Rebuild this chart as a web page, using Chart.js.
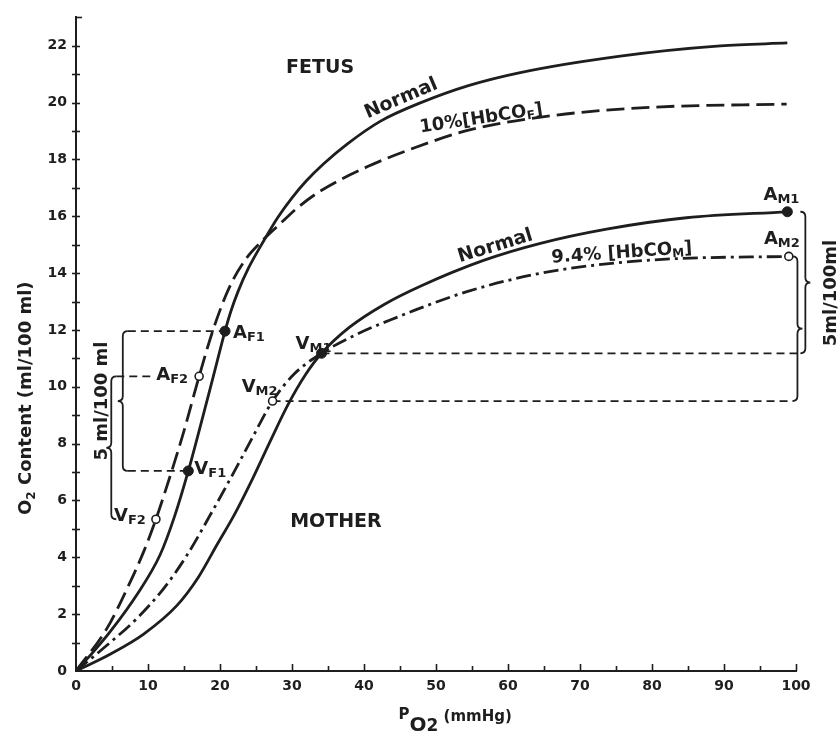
<!DOCTYPE html>
<html>
<head>
<meta charset="utf-8">
<script src="https://cdn.jsdelivr.net/npm/chart.js@4.4.1/dist/chart.umd.min.js"></script>
<style>
  html, body { margin: 0; padding: 0; background: #ffffff; }
  #wrap { width: 840px; height: 732px; }
</style>
</head>
<body>
<div id="wrap"><canvas id="chart" width="840" height="732"></canvas></div>
<script>
// O2 content of blood (ml/100 ml) against PO2 (mmHg), fetal and maternal,
// each with and without carboxyhaemoglobin.

// Fetal blood, normal
const fetusNormalPO2 = [0, 2.5, 4.8, 8.5, 11.7, 13.7, 15.6, 17.2, 19.0, 20.7, 21.5, 22.5, 24.0, 26.1, 28.0, 30.0, 32.0, 34.4, 37.7, 42.3, 47.9, 54.5, 61.7, 75.6, 89.5, 98.8];
const fetusNormalO2  = [0, 0.7, 1.4, 2.7, 4.1, 5.45, 7.04, 8.55, 10.3, 11.96, 12.65, 13.35, 14.2, 15.15, 15.95, 16.65, 17.25, 17.85, 18.55, 19.35, 20.0, 20.6, 21.06, 21.64, 22.0, 22.1];

// Fetal blood, 10% HbCO
const fetusCOPO2 = [0, 4.3, 7.1, 9.4, 11.1, 13.0, 15.0, 17.1, 19.1, 21.3, 23.6, 26.1, 28.4, 31.0, 34.0, 40.5, 46.9, 54.8, 66.3, 80.2, 98.7];
const fetusCOO2  = [0, 1.5, 2.9, 4.2, 5.34, 6.8, 8.45, 10.37, 12.05, 13.5, 14.5, 15.2, 15.75, 16.35, 16.9, 17.75, 18.4, 19.05, 19.55, 19.84, 19.95];

// Maternal blood, normal
const motherNormalPO2 = [0, 4.8, 9.4, 14, 17, 19.6, 22, 24.5, 27, 29.5, 31.8, 34.1, 38, 42.8, 47.9, 56.6, 64.5, 73.7, 84.8, 98.8];
const motherNormalO2  = [0, 0.6, 1.3, 2.3, 3.3, 4.45, 5.5, 6.75, 8.1, 9.4, 10.4, 11.18, 12.1, 12.9, 13.55, 14.45, 15.05, 15.55, 15.95, 16.16];

// Maternal blood, 9.4% HbCO
const motherCOPO2 = [0, 3.8, 8.5, 12.2, 15.4, 18.6, 21.9, 24.6, 27.3, 30.3, 34.1, 39, 45.1, 47.9, 54.3, 63.6, 72, 82.5, 99.0];
const motherCOO2  = [0, 0.8, 1.86, 2.91, 4.07, 5.47, 6.98, 8.26, 9.5, 10.45, 11.18, 11.85, 12.5, 12.78, 13.35, 13.95, 14.28, 14.5, 14.59];

// Arterial (A) and venous (V) points: 1 = normal, 2 = with HbCO
const pointNames = ['A_F1', 'V_F1', 'A_F2', 'V_F2', 'A_M1', 'V_M1', 'A_M2', 'V_M2'];
const pointPO2   = [20.7, 15.6, 17.1, 11.1, 98.8, 34.1, 99.0, 27.3];
const pointO2    = [11.96, 7.04, 10.37, 5.34, 16.16, 11.18, 14.59, 9.5];

// Axis tick labels
const xTickLabels = ['0', '10', '20', '30', '40', '50', '60', '70', '80', '90', '100'];
const yTickLabels = ['0', '2', '4', '6', '8', '10', '12', '14', '16', '18', '20', '22'];

const FAM = "'DejaVu Sans', 'Liberation Sans', sans-serif";
const INK = '#1e1e1e';

const zip = (xs, ys) => xs.map((v, i) => ({ x: v, y: ys[i] }));
const pointIndex = name => pointNames.indexOf(name);
const isNormal = name => name.endsWith('1');

function font(size, weight) { return (weight || 'bold') + ' ' + size + 'px ' + FAM; }

// Draws a sequence of text runs [text, font, dy] on one baseline.
function drawRuns(ctx, runs, x, y, align) {
  let w = 0;
  runs.forEach(r => { ctx.font = r[1]; w += ctx.measureText(r[0]).width; });
  let cx = align === 'right' ? x - w : (align === 'center' ? x - w / 2 : x);
  ctx.textAlign = 'left';
  ctx.textBaseline = 'alphabetic';
  runs.forEach(r => {
    ctx.font = r[1];
    ctx.fillText(r[0], cx, y + (r[2] || 0));
    cx += ctx.measureText(r[0]).width;
  });
  return w;
}

function pointLabelRuns(name) {
  const [main, sub] = name.split('_');
  return [[main, font(18)], [sub, font(13), 3]];
}

// Curly brace along a vertical line; dir = +1 puts the middle nub on the right.
function brace(ctx, x, yTop, yBot, dir, r) {
  const ym = (yTop + yBot) / 2;
  const e = x - dir * r;
  const n = x + dir * r;
  ctx.beginPath();
  ctx.moveTo(e, yTop);
  ctx.quadraticCurveTo(x, yTop, x, yTop + r);
  ctx.lineTo(x, ym - r);
  ctx.quadraticCurveTo(x, ym, n, ym);
  ctx.quadraticCurveTo(x, ym, x, ym + r);
  ctx.lineTo(x, yBot - r);
  ctx.quadraticCurveTo(x, yBot, e, yBot);
  ctx.stroke();
}

// Label placement for each point: anchor side, offset from the point (px)
const pointLabelLayout = {
  A_F1: { align: 'left',  dx: 8,   dy: 7 },
  V_F1: { align: 'left',  dx: 6,   dy: 3 },
  A_F2: { align: 'right', dx: -11, dy: 4 },
  V_F2: { align: 'right', dx: -10, dy: 2 },
  V_M1: { align: 'right', dx: 10,  dy: -4 },
  V_M2: { align: 'right', dx: 5,   dy: -9 },
  A_M1: { align: 'right', dx: 12,  dy: -12 },
  A_M2: { align: 'right', dx: 11,  dy: -12 }
};

// Brace positions along the PO2 axis
const braceAt = { F1: 6.5, F2: 4.9, M1: 101.3, M2: 100.2 };

const guides = {
  id: 'guides',
  beforeDatasetsDraw(chart) {
    const { ctx, scales: { x, y } } = chart;
    const px = name => x.getPixelForValue(pointPO2[pointIndex(name)]);
    const py = name => y.getPixelForValue(pointO2[pointIndex(name)]);
    const r = 5;
    ctx.save();
    ctx.strokeStyle = INK;
    ctx.lineWidth = 1.8;
    ctx.lineCap = 'butt';

    // solid braces
    const bF1 = x.getPixelForValue(braceAt.F1);
    const bF2 = x.getPixelForValue(braceAt.F2);
    const bM1 = x.getPixelForValue(braceAt.M1);
    const bM2 = x.getPixelForValue(braceAt.M2);
    brace(ctx, bF1, py('A_F1'), py('V_F1'), -1, r);
    brace(ctx, bF2, py('A_F2'), py('V_F2'), -1, r);
    brace(ctx, bM1, py('A_M1'), py('V_M1'), 1, r);
    brace(ctx, bM2, py('A_M2'), py('V_M2'), 1, r);

    // dashed connectors
    ctx.setLineDash([8, 5]);
    const dash = (x1, x2, yy) => { ctx.beginPath(); ctx.moveTo(x1, yy); ctx.lineTo(x2, yy); ctx.stroke(); };
    dash(bF1 + r, px('A_F1'), py('A_F1'));
    dash(bF1 + r, px('V_F1'), py('V_F1'));
    ctx.save();
    ctx.font = font(18);
    let w = ctx.measureText('A').width;
    ctx.font = font(13);
    w += ctx.measureText('F2').width;
    ctx.restore();
    dash(bF2 + r, px('A_F2') + pointLabelLayout.A_F2.dx - w - 2, py('A_F2'));
    dash(px('V_M1'), bM1 - r, py('V_M1'));
    dash(px('V_M2'), bM2 - r, py('V_M2'));
    ctx.setLineDash([]);
    ctx.restore();
  }
};

// Text placed in data units
const notes = {
  fetus:  { x: 33.9, y: 21.29 },
  mother: { x: 36.1, y: 5.31 },
  fetusNormal:  { x: 45.1, y: 20.17, angle: -23 },
  fetusCO:      { x: 56.25, y: 19.48, angle: -8.5 },
  motherNormal: { x: 58.2, y: 14.98, angle: -17 },
  motherCO:     { x: 75.8, y: 14.75, angle: -4 }
};

const annotations = {
  id: 'annotations',
  afterDraw(chart) {
    const { ctx, chartArea: a, scales: { x, y } } = chart;
    ctx.save();
    ctx.fillStyle = INK;
    ctx.strokeStyle = INK;

    // tick marks: y ticks cross the axis, x ticks point up into the plot
    ctx.lineWidth = 1.6;
    y.ticks.forEach(t => {
      if (t.value === 0) return;
      const p = Math.round(y.getPixelForValue(t.value)) + 0.5;
      ctx.beginPath();
      ctx.moveTo(a.left - (t.value === 23 ? 0 : 4), p);
      ctx.lineTo(a.left + (t.value === 23 ? 6 : 4), p);
      ctx.stroke();
    });
    x.ticks.forEach(t => {
      if (t.value === 0) return;
      const p = Math.round(x.getPixelForValue(t.value)) + 0.5;
      ctx.beginPath();
      ctx.moveTo(p, a.bottom);
      ctx.lineTo(p, a.bottom - (t.value % 10 === 0 ? 7 : 5));
      ctx.stroke();
    });

    // point labels
    pointNames.forEach((name, i) => {
      const L = pointLabelLayout[name];
      const px = x.getPixelForValue(pointPO2[i]);
      const py = y.getPixelForValue(pointO2[i]);
      drawRuns(ctx, pointLabelRuns(name), px + L.dx, py + L.dy, L.align);
    });

    // group titles
    ctx.font = font(19);
    ctx.textAlign = 'center';
    ctx.textBaseline = 'alphabetic';
    ctx.fillText('FETUS', x.getPixelForValue(notes.fetus.x), y.getPixelForValue(notes.fetus.y) + 7);
    ctx.fillText('MOTHER', x.getPixelForValue(notes.mother.x), y.getPixelForValue(notes.mother.y) + 7);

    // curve labels
    const rotated = (n, runs) => {
      ctx.save();
      ctx.translate(x.getPixelForValue(n.x), y.getPixelForValue(n.y));
      ctx.rotate(n.angle * Math.PI / 180);
      drawRuns(ctx, runs, 0, 6, 'center');
      ctx.restore();
    };
    rotated(notes.fetusNormal, [['Normal', font(19)]]);
    rotated(notes.motherNormal, [['Normal', font(19)]]);
    rotated(notes.fetusCO, [['10%', font(18)], ['[HbCO', font(18)], ['F', font(12), 3], [']', font(18)]]);
    rotated(notes.motherCO, [['9.4% ', font(18)], ['[HbCO', font(18)], ['M', font(12), 3], [']', font(18)]]);

    // brace labels
    const vertical = (cx, cy, runs) => {
      ctx.save();
      ctx.translate(cx, cy);
      ctx.rotate(-Math.PI / 2);
      drawRuns(ctx, runs, 0, 0, 'center');
      ctx.restore();
    };
    vertical(a.left + 31, y.getPixelForValue(9.5), [['5 ml/100 ml', font(18)]]);
    vertical(a.right + 40, y.getPixelForValue(13.3), [['5ml/100ml', font(18)]]);

    // axis titles
    vertical(a.left - 45, y.getPixelForValue(9.6), [['O', font(18)], ['2', font(12), 4], [' Content (ml/100 ml)', font(18)]]);
    drawRuns(ctx, [['P', font(15), -12], ['O', font(20)], ['2', font(17)], [' ', font(15)], ['(mmHg)', font(15), -10]],
      x.getPixelForValue(44.8), a.bottom + 60, 'left');

    ctx.restore();
  }
};

const lineBase = {
  type: 'line',
  borderColor: INK,
  borderWidth: 2.8,
  pointRadius: 0,
  fill: false,
  cubicInterpolationMode: 'monotone',
  order: 2
};

const normalNames = pointNames.filter(isNormal);
const coNames = pointNames.filter(n => !isNormal(n));

new Chart(document.getElementById('chart'), {
  type: 'scatter',
  data: {
    datasets: [
      {
        label: 'Normal blood points',
        data: normalNames.map(n => ({ x: pointPO2[pointIndex(n)], y: pointO2[pointIndex(n)] })),
        pointRadius: 5, pointBackgroundColor: INK, pointBorderColor: INK, pointBorderWidth: 1,
        showLine: false, order: 0
      },
      {
        label: 'HbCO blood points',
        data: coNames.map(n => ({ x: pointPO2[pointIndex(n)], y: pointO2[pointIndex(n)] })),
        pointRadius: 4, pointBackgroundColor: '#ffffff', pointBorderColor: INK, pointBorderWidth: 1.6,
        showLine: false, order: 0
      },
      Object.assign({}, lineBase, { label: 'Fetus, normal', data: zip(fetusNormalPO2, fetusNormalO2) }),
      Object.assign({}, lineBase, { label: 'Fetus, 10% HbCO', data: zip(fetusCOPO2, fetusCOO2), borderDash: [18, 7] }),
      Object.assign({}, lineBase, { label: 'Mother, normal', data: zip(motherNormalPO2, motherNormalO2) }),
      Object.assign({}, lineBase, { label: 'Mother, 9.4% HbCO', data: zip(motherCOPO2, motherCOO2), borderDash: [15, 5, 3, 5] })
    ]
  },
  options: {
    responsive: false,
    animation: false,
    devicePixelRatio: 1,
    layout: { padding: { top: 11, right: 44, left: 0, bottom: 0 } },
    plugins: { legend: { display: false }, tooltip: { enabled: false } },
    scales: {
      x: {
        type: 'linear', min: 0, max: 100,
        afterFit(s) { s.height = 61; },
        grid: { display: false, drawTicks: false },
        border: { display: true, color: INK, width: 2 },
        ticks: {
          stepSize: 5, autoSkip: false, maxRotation: 0, padding: 7, color: INK,
          font: { family: FAM, size: 14, weight: 'bold' },
          callback: v => (v % 10 === 0 ? xTickLabels[v / 10] : '')
        }
      },
      y: {
        type: 'linear', min: 0, max: 23,
        afterFit(s) { s.width = 76; },
        grid: { display: false, drawTicks: false },
        border: { display: true, color: INK, width: 2 },
        ticks: {
          stepSize: 1, autoSkip: false, padding: 9, color: INK,
          font: { family: FAM, size: 14, weight: 'bold' },
          callback: v => (v % 2 === 0 && v / 2 < yTickLabels.length ? yTickLabels[v / 2] : '')
        }
      }
    }
  },
  plugins: [guides, annotations]
});
</script>
</body>
</html>
